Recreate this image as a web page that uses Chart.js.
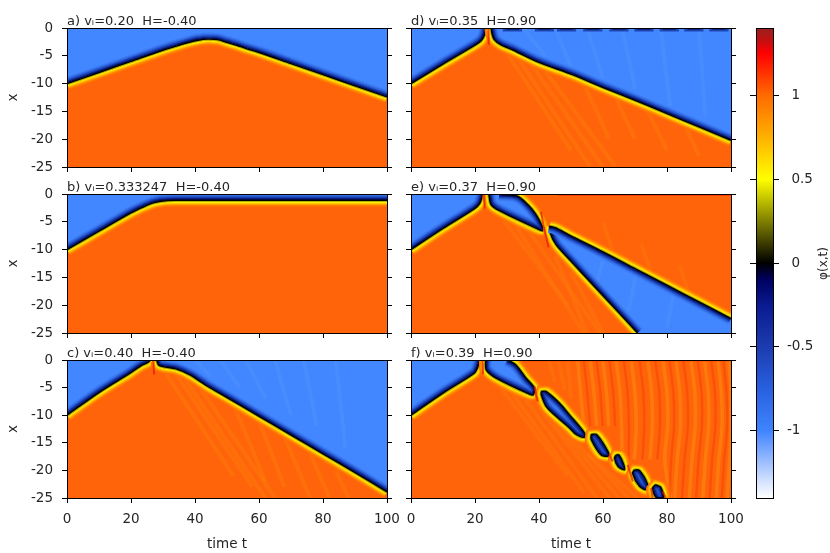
<!DOCTYPE html>
<html>
<head>
<meta charset="utf-8">
<script src="https://cdn.jsdelivr.net/npm/chart.js@4"></script>
<style>
  body { margin: 0; background: #fff; }
  canvas { position: absolute; }
</style>
</head>
<body>
<script>
// kink fronts, [t, x]
const aFront = [[0,-10],[10,-8],[20,-6],[30,-4],[35,-3.1],[38,-2.6],[41,-2.2],[44,-2],[47,-2.1],[50,-2.6],[53,-3.1],[56,-3.7],[60,-4.4],[70,-6.4],[80,-8.4],[90,-10.4],[100,-12.4]];
const bFront = [[0,-10],[10,-6.7],[20,-3.4],[24,-2.3],[27,-1.6],[30,-1.25],[34,-1.15],[40,-1.15],[70,-1.15],[100,-1.15]];
const cFrontL = [[0,-10],[10,-5.9],[19.7,-2.4],[23,-1.1],[25.4,-0.4],[26,0]];
const cFrontR = [[28,0],[28.6,-0.9],[30,-1.2],[34,-1.6],[38.4,-2.7],[44,-4.8],[50,-6.8],[60,-10.2],[70,-13.6],[80,-17],[90,-20.4],[100,-23.9]];
const dFrontL = [[0,-10],[10,-6.5],[20,-3.1],[21.9,-2.3],[23,-1.2],[23.4,0]];
const dFrontR = [[25,0],[25.3,-1],[26,-2.1],[28,-3],[32,-4],[40,-6.2],[50,-8.3],[60,-10.7],[70,-13],[80,-15.4],[90,-17.8],[100,-20.2]];
const eFrontL = [[0,-10],[10,-6.2],[20,-2.6],[21.5,-1.7],[22.2,-0.6],[22.4,0]];
const fFrontL = [[0,-10],[10,-6],[19.8,-2.4],[20.8,-1.4],[21.3,-0.5],[21.5,0]];

// closed blue islands, lower edge left to right then upper edge back
const eIsland1 = [[24.3,0],[25,-1.9],[27.6,-3],[40,-6.4],[41.2,-6.6],[41,-5.8],[39.1,-3.7],[36.5,-1.9],[33.3,-0.4],[27.6,0]];
const eIsland2Low = [[43.3,-5.8],[43.5,-7],[45.3,-9.1],[49.5,-11.8],[60,-18.3],[70.8,-25]];
const eIsland2Up = [[100,-22.4],[90,-19.4],[80,-16.4],[70,-13.4],[60,-10.4],[49.5,-7.4],[45.3,-6.1],[43.3,-5.8]];
const fIsland1 = [[23.3,0],[23.5,-1.8],[26.6,-3.3],[37,-6.2],[38.2,-6.3],[38.6,-5.1],[36,-3.3],[32.8,-0.9],[30.2,0]];
const fIsland2 = [[40.7,-5.7],[40.7,-6.3],[42.2,-8.4],[45.3,-10.2],[49.5,-12.3],[51.6,-13.5],[54.2,-14],[54.2,-13.2],[49.5,-9.9],[46.4,-7.8],[42.2,-5.7],[40.7,-5.7]];
const fIsland3 = [[56.3,-13.5],[56.3,-14.4],[59.4,-17.2],[61.8,-17.4],[61.5,-16.5],[58,-13.5],[56.3,-13.5]];
const fIsland4 = [[64.1,-17.2],[63.6,-17.8],[64.7,-19.3],[66.7,-19.9],[66.4,-18.8],[65,-17.2],[64.1,-17.2]];
const fIsland5 = [[69.8,-19.9],[69.2,-20.5],[71.4,-22.9],[73.6,-23.5],[74,-22.6],[71.4,-20],[69.8,-19.9]];
const fIsland6 = [[76.4,-22.6],[75.5,-23.2],[76.7,-25],[78.9,-25],[78,-23],[76.4,-22.6]];

// red streaks at the collisions
const cStreak = [[27,0],[27.2,-2.6]];
const dStreak = [[24.2,0],[24.3,-3]];
const eStreak = [[22.9,0],[23,-2.6]];
const eStreak2 = [[40.6,-3.2],[41.7,-6.4],[43,-9.6]];
const fStreak = [[22.4,0],[22.5,-2.6]];
const fStreaks = [[[38.6,-4.8],[39.6,-7.5]],[[62,-17.1],[63,-18.4]],[[67.7,-19],[69.3,-22]],[[75,-23.2],[75.5,-25]],[[78.6,-23.8],[79.7,-25]]];

// faint radiation stripes, orange side
const cRays = [[[31,-2.5],[52,-21]],[[34,-2.5],[58,-23]],[[37,-3.5],[62,-25]],[[41,-4.5],[65,-25]],[[52,-8],[62,-22]],[[60,-11],[68,-23]],[[68,-14],[76,-25]],[[76,-17],[82,-25]],[[84,-20],[88,-25]]];
const dRays = [[[30,-4.5],[50,-22]],[[33,-5],[56,-25]],[[37,-6],[60,-25]],[[41,-7],[64,-25]],[[54,-10],[62,-20]],[[64,-12.5],[70,-20]],[[74,-15],[80,-22]],[[86,-18],[90,-23]]];
const eRays = [[[28,-4],[49,-20]],[[32,-5],[54,-25]],[[36,-6],[59,-25]],[[50,-14],[60,-25]],[[45,-11],[55,-25]],[[60,-5],[64,-12]],[[72,-9],[76,-16]],[[84,-13],[88,-20]]];
const fRays = [[[28,-5],[49,-21]],[[31,-5.5],[54,-24]],[[35,-6.5],[58,-25]],[[40,-8.5],[62,-25]],[[45,-11.5],[65,-25]],[[50,-14],[68,-25]],[[55,-17],[71,-25]],[[43,0],[45,-4]],[[46,0],[48,-5.5]],[[49,0],[50,-7]]];

// faint stripes in the blue part
const cBlueRays = [[[40,0],[45,-3]],[[48,0],[54,-5]],[[56,0],[62,-7]],[[65,0],[70,-10]],[[74,0],[78,-12]],[[84,0],[87,-16]]];
const dBlueRays = [[[35,0],[42,-5]],[[45,0],[50,-7]],[[55,0],[60,-9]],[[66,0],[70,-11]],[[78,0],[81,-14]],[[90,0],[92,-16]]];
const eBlueRays = [[[60,-12],[58,-16]],[[70,-15],[68,-21]],[[82,-18],[80,-24]]];

// waves on the top edge of d
const dHumps = [31.7,41.7,48.6,56.8,65,72.8,80.7,88.4,96.2];
const topEdge = [[0,0],[100,0]];
const eRedTop = [[46,0],[100,0]];
const fRedTop = [[34,0],[100,0]];
const floorLine = [[0,-25],[100,-25]];

// wavy stripes of panel f, one t per level of fRippleX
const fRippleX = [0,-6,-12,-18,-25];
const fLightT = [[52.1,53,54,null,null],[56,57.2,58,null,null],[59.9,61.1,61.8,null,null],[64.1,65.3,65.8,66,null],[68.8,70,70.4,69.8,null],[74,75.2,75.4,74.7,null],[78.7,80,80.2,79.3,81],[82.8,84,84.2,83.2,82.4],[87.5,88.7,88.8,87.8,87],[91.7,92.9,93,92,91.2],[95.9,97,97.2,96.2,95.4],[99.3,100,100,99.6,98.8]];
const fDarkT = [[54,55.1,56,null,null],[58,59.2,59.9,null,null],[62,63.2,63.8,null,null],[66.5,67.7,68.1,68,null],[71.4,72.6,72.9,72.3,null],[76.3,77.6,77.8,77,null],[80.7,82,82.2,81.3,80.8],[85.1,86.3,86.5,85.5,84.7],[89.6,90.8,90.9,89.9,89.1],[93.8,95,95.1,94.1,93.3],[97.6,98.6,98.8,97.9,97.1]];

const titles = ['a) vᵢ=0.20  H=-0.40','b) vᵢ=0.333247  H=-0.40','c) vᵢ=0.40  H=-0.40','d) vᵢ=0.35  H=0.90','e) vᵢ=0.37  H=0.90','f) vᵢ=0.39  H=0.90'];
const xTicksLabelled = [false,false,true,false,false,true];

// colour bar
const cbValues = [-1.4,-1.3,-1.2,-1.1,-1,-0.75,-0.5,-0.25,-0.1,0,0.25,0.5,0.75,1,1.25,1.33,1.4];
const cbColors = ['#ffffff','#d4e2ff','#a3c2ff','#72a3ff','#3f84ff','#2860e0','#1c3cb0','#0a1a90','#000060','#000000','#808000','#ffff00','#ffb000','#ff6a00','#ff0000','#c01010','#9a2020'];
const cbTicks = [-1,-0.5,0,0.5,1];

const ORANGE = '#ff640a', BLUE = '#4287ff';
const fontFamily = '"DejaVu Sans"';
const pxT = 3.2, pxX = 5.55;

// shading across a front: [px towards the orange side, colour]
const bandLayers = [[-6,'#3d7ef5'],[-5,'#3670e8'],[-4,'#2a5cd5'],[-3,'#1c44b8'],[-2,'#0f2a95'],[-1,'#050f5a'],
  [6,'#ff7000'],[5,'#ff8000'],[4,'#ffa000'],[3,'#ffc800'],[2,'#ffef00'],[1,'#b5b500'],[0,'#000000']];

function pts(curve){ return curve.map(p => ({x:p[0], y:p[1]})); }

function shifted(curve, d){
  const n = curve.length;
  const closed = curve[0][0]===curve[n-1][0] && curve[0][1]===curve[n-1][1];
  return curve.map((p,i) => {
    let a = curve[i-1], b = curve[i+1];
    if(!a) a = closed ? curve[n-2] : p;
    if(!b) b = closed ? curve[1] : p;
    const tx = (b[0]-a[0])*pxT, ty = -(b[1]-a[1])*pxX;
    const len = Math.hypot(tx,ty) || 1;
    return {x: p[0] + (-ty/len)*d/pxT, y: p[1] - (tx/len)*d/pxX};
  });
}

function lineDs(data, color, width, extra){
  return Object.assign({data:data, borderColor:color, backgroundColor:color, borderWidth:width, pointRadius:0, fill:false, tension:0.3, borderJoinStyle:'round'}, extra||{});
}
function rays(list, color, width){ return list.map(r => lineDs(pts(r), color, width)); }
function area(curve, mode){ return lineDs(pts(curve), 'transparent', 0, {fill:mode, backgroundColor:BLUE}); }
function bands(curve){ return bandLayers.map(l => lineDs(shifted(curve,l[0]), l[1], 1.4)); }
function ripple(row, color, width){
  const p = [];
  row.forEach((t,i) => { if(t!==null) p.push({x:t, y:fRippleX[i]}); });
  return lineDs(p, color, width);
}

const warm = 'rgba(255,150,10,0.22)', warmFaint = 'rgba(255,140,10,0.2)', redFaint = 'rgba(240,40,0,0.3)';
const coolLight = 'rgba(120,170,255,0.14)';
const streakRed = 'rgba(235,20,0,0.7)';

const island2E = eIsland2Low.concat([[100,-25]], eIsland2Up);
const fIslands = [fIsland1,fIsland2,fIsland3,fIsland4,fIsland5,fIsland6];
const floorDs = () => lineDs(pts(floorLine), 'transparent', 0, {fill:'end', backgroundColor:ORANGE});

const panels = [
  [floorDs(), area(aFront,'end'), lineDs(pts(topEdge),'rgba(120,170,255,0.4)',2), ...bands(aFront)],
  [floorDs(), area(bFront,'end'), ...bands(bFront)],
  [floorDs(), ...rays(cRays,warm,4), area(cFrontL,'end'), area(cFrontR,'end'), ...rays(cBlueRays,coolLight,4),
    lineDs(pts(topEdge),'rgba(120,170,255,0.4)',2), ...bands(cFrontL), ...bands(cFrontR), lineDs(pts(cStreak),streakRed,2)],
  [floorDs(), ...rays(dRays,warm,4), area(dFrontL,'end'), area(dFrontR,'end'), ...rays(dBlueRays,coolLight,4),
    ...dHumps.map(h => lineDs(pts([[h-3,0],[h+3,0]]),'#1f45b5',7)),
    ...dHumps.map(h => lineDs(pts([[h-2,0],[h+2,0]]),'#0a1a70',3.5)),
    ...bands(dFrontL), ...bands(dFrontR), lineDs(pts(dStreak),streakRed,2)],
  [floorDs(), ...rays(eRays,warmFaint,4), lineDs(pts(eRedTop),'#ff1a00',3),
    area(eFrontL,'end'), lineDs(pts(eIsland1),'transparent',0,{fill:'shape',backgroundColor:BLUE}),
    lineDs(pts(island2E),'transparent',0,{fill:'shape',backgroundColor:BLUE,tension:0}), ...rays(eBlueRays,coolLight,4),
    ...bands(eFrontL), ...bands(eIsland1), ...bands(eIsland2Low), ...bands(eIsland2Up),
    lineDs(pts(eStreak),streakRed,2), lineDs(pts(eStreak2),streakRed,2)],
  [floorDs(), ...rays(fRays,warmFaint,4), ...fLightT.map(r => ripple(r,'rgba(255,155,15,0.4)',3.5)), ...fDarkT.map(r => ripple(r,redFaint,2.5)),
    lineDs(pts(fRedTop),'#ff2a00',2.5), area(fFrontL,'end'),
    ...fIslands.map(c => lineDs(pts(c),'transparent',0,{fill:'shape',backgroundColor:BLUE})),
    ...bands(fFrontL), ...fIslands.map(bands).flat(),
    lineDs(pts(fStreak),streakRed,2), ...rays(fStreaks,streakRed,2)]
];

const tickFont = {family:fontFamily, size:13.5};
const textColor = '#262626';
const axisBorder = {display:true, color:'#000', width:1, z:3};
const tickGrid = {drawOnChartArea:false, drawTicks:true, tickLength:5, color:'#000', z:2};

function panelChart(i){
  const col = i < 3 ? 0 : 1, row = i % 3;
  const cv = document.createElement('canvas');
  const tops = [0,166,332], heights = [190,190,221];
  cv.width = 400; cv.height = heights[row];
  cv.style.left = (col ? 344 : 0) + 'px';
  cv.style.top = tops[row] + 'px';
  document.body.appendChild(cv);
  const bottomH = row===2 ? 55 : 23;
  new Chart(cv, {
    type:'line',
    data:{datasets: panels[i].slice().reverse()},
    options:{
      responsive:false, animation:false, parsing:{xAxisKey:'x', yAxisKey:'y'},
      plugins:{legend:{display:false}, tooltip:{enabled:false}},
      layout:{padding:0},
      scales:{
        x:{type:'linear', position:'bottom', min:0, max:100,
          afterFit(s){s.height=bottomH; s.paddingLeft=0; s.paddingRight=0;},
          border:axisBorder, grid:tickGrid,
          ticks:{stepSize:20, display:xTicksLabelled[i], font:tickFont, color:textColor, padding:8, maxRotation:0},
          title:{display:row===2, text:'time t', font:tickFont, color:textColor, padding:{top:7,bottom:0}}},
        xt:{type:'linear', position:'top', min:0, max:100, afterFit(s){s.height=28; s.paddingLeft=0; s.paddingRight=0;},
          border:axisBorder, grid:{drawOnChartArea:false, drawTicks:false, z:2},
          ticks:{display:false},
          title:{display:true, text:titles[i], align:'start', font:{family:fontFamily,size:13}, color:textColor, padding:{top:14,bottom:0}}},
        y:{type:'linear', position:'left', min:-25, max:0, afterFit(s){s.width=67;},
          border:axisBorder, grid:tickGrid,
          ticks:{stepSize:5, display:col===0, font:tickFont, color:textColor, padding:9},
          title:{display:col===0, text:'x', font:tickFont, color:textColor, padding:{top:5.5,bottom:0}}},
        yr:{type:'linear', position:'right', min:-25, max:0, afterFit(s){s.width=13;},
          border:axisBorder, grid:tickGrid, ticks:{stepSize:5, display:false}}
      }
    }
  });
}
for(let i=0;i<6;i++) panelChart(i);

// colour bar
const cbCanvas = document.createElement('canvas');
cbCanvas.width = 90; cbCanvas.height = 553;
cbCanvas.style.left = '740px'; cbCanvas.style.top = '0px';
document.body.appendChild(cbCanvas);

const phiLabel = {
  id:'phiLabel',
  afterDraw(chart){
    const ctx = chart.ctx;
    ctx.save();
    ctx.translate(84, 263.5);
    ctx.rotate(-Math.PI/2);
    ctx.font = '12px ' + fontFamily;
    ctx.fillStyle = textColor;
    ctx.textAlign = 'center';
    ctx.textBaseline = 'middle';
    ctx.fillText('φ(x,t)', 0, 0);
    ctx.restore();
  }
};

const cbFrame = {drawOnChartArea:false, drawTicks:false, z:2};
new Chart(cbCanvas, {
  type:'bar',
  data:{labels:['φ'], datasets:[{
    data:[[-1.4,1.4]], yAxisID:'yr', barPercentage:1, categoryPercentage:1,
    backgroundColor(c){
      const a = c.chart.chartArea;
      if(!a) return '#000';
      const g = c.chart.ctx.createLinearGradient(0,a.bottom,0,a.top);
      cbValues.forEach((v,i) => g.addColorStop((v+1.4)/2.8, cbColors[i]));
      return g;
    }
  }]},
  options:{
    responsive:false, animation:false,
    plugins:{legend:{display:false}, tooltip:{enabled:false}},
    layout:{padding:0},
    scales:{
      x:{position:'bottom', afterFit(s){s.height=55;}, border:axisBorder, grid:cbFrame, ticks:{display:false}},
      xt:{type:'linear', position:'top', min:0, max:1, afterFit(s){s.height=28;}, border:axisBorder, grid:cbFrame, ticks:{display:false}},
      yl:{type:'linear', position:'left', min:-1.4, max:1.4, afterFit(s){s.width=16;},
        afterBuildTicks(s){s.ticks=cbTicks.map(v=>({value:v}));},
        border:axisBorder, grid:Object.assign({},tickGrid,{tickLength:6}), ticks:{display:false}},
      yr:{type:'linear', position:'right', min:-1.4, max:1.4, afterFit(s){s.width=57;},
        afterBuildTicks(s){s.ticks=cbTicks.map(v=>({value:v}));},
        border:axisBorder, grid:Object.assign({},tickGrid,{tickLength:6}),
        ticks:{font:tickFont, color:textColor, padding:8, align:'center', crossAlign:'near',
          callback(v){ return (v>=0 ? '\u2004' : '') + v; }}}
    }
  },
  plugins:[phiLabel]
});
</script>
</body>
</html>
